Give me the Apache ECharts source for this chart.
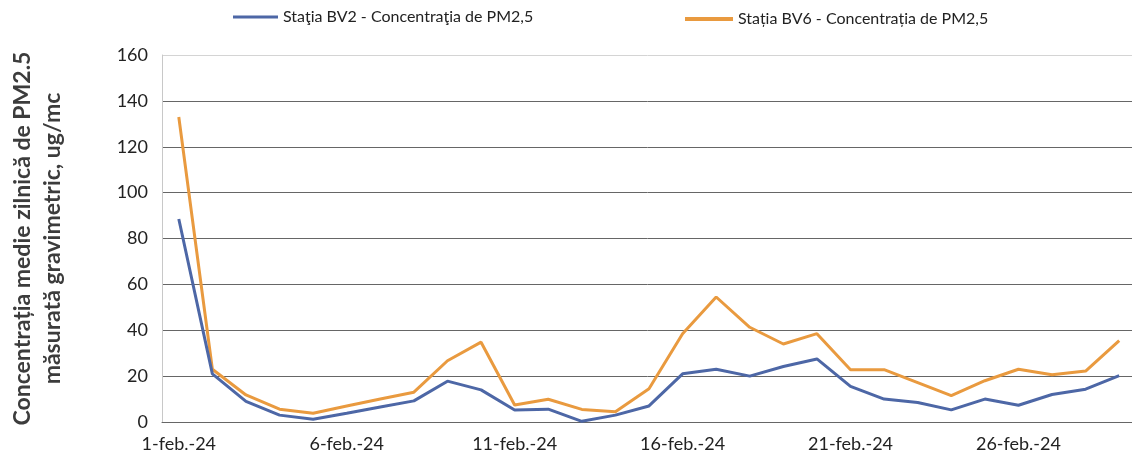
<!DOCTYPE html>
<html>
<head>
<meta charset="utf-8">
<script src="https://cdn.jsdelivr.net/npm/echarts@6/dist/echarts.min.js"></script>
<style>
  html, body { margin: 0; padding: 0; background: #fff; }
  #chart { width: 1132px; height: 464px; }
</style>
</head>
<body>
<div id="chart"></div>
<script>
// categorii (zilele lunii februarie 2024)
var days = [
  '1-feb.-24', '2-feb.-24', '3-feb.-24', '4-feb.-24', '5-feb.-24', '6-feb.-24',
  '7-feb.-24', '8-feb.-24', '9-feb.-24', '10-feb.-24', '11-feb.-24', '12-feb.-24',
  '13-feb.-24', '14-feb.-24', '15-feb.-24', '16-feb.-24', '17-feb.-24', '18-feb.-24',
  '19-feb.-24', '20-feb.-24', '21-feb.-24', '22-feb.-24', '23-feb.-24', '24-feb.-24',
  '25-feb.-24', '26-feb.-24', '27-feb.-24', '28-feb.-24', '29-feb.-24'
]
// concentratii PM2,5 (ug/mc)
var bv2 = [88.5, 21, 9, 3, 1.2, 3.8, 6.5, 9.2, 17.8, 14, 5.2, 5.6, 0.3, 3, 7,
  21, 23, 20, 24.2, 27.5, 15.5, 10, 8.5, 5.3, 10, 7.3, 12, 14.3, 20.2]
var bv6 = [133, 23, 11.8, 5.6, 3.8, 7, 10, 13, 26.7, 34.8, 7.4, 9.9, 5.5, 4.5, 14.5,
  38.5, 54.5, 41.3, 34, 38.5, 22.8, 22.8, 17.2, 11.5, 18, 23, 20.6, 22.2, 35.5]
var yTicks = [0, 20, 40, 60, 80, 100, 120, 140, 160]

var nameBV2 = 'Staţia BV2 - Concentraţia de PM2,5'
var nameBV6 = 'Stația BV6 - Concentrația de PM2,5'
var blue = '#4d67a6'
var orange = '#e99a3f'
var font = 'Lato, "Open Sans", sans-serif'

var chart = echarts.init(document.getElementById('chart'))
var option = {
  backgroundColor: '#fff',
  textStyle: { fontFamily: font },
  legend: [
    {
      left: 228,
      top: 4,
      data: [nameBV2],
      icon: 'rect',
      itemWidth: 45,
      itemHeight: 3,
      textStyle: { fontSize: 16, color: '#222', fontFamily: font }
    },
    {
      left: 680,
      top: 6,
      data: [nameBV6],
      icon: 'rect',
      itemWidth: 48,
      itemHeight: 4,
      textStyle: { fontSize: 16, color: '#222', fontFamily: font }
    }
  ],
  grid: {
    left: 162,
    top: 55,
    width: 974,
    bottom: 42,
    outerBoundsMode: 'none',
    containLabel: false
  },
  xAxis: {
    type: 'category',
    data: days,
    boundaryGap: true,
    axisLine: { lineStyle: { color: '#666', width: 1 } },
    axisTick: { interval: 4, length: 6, lineStyle: { color: '#666' } },
    axisLabel: {
      interval: 4,
      margin: 13,
      fontSize: 18,
      color: '#222',
      fontFamily: font
    }
  },
  yAxis: {
    type: 'value',
    min: yTicks[0],
    max: yTicks[yTicks.length - 1],
    interval: 20,
    name: 'Concentrația medie zilnică de PM2.5\nmăsurată gravimetric, ug/mc',
    nameLocation: 'middle',
    nameRotate: 90,
    nameGap: 94,
    nameTextStyle: {
      fontSize: 23,
      fontWeight: 'bold',
      color: '#3c3c3c',
      lineHeight: 30,
      fontFamily: font
    },
    axisLine: { show: true, lineStyle: { color: '#c8c8c8' } },
    axisTick: { show: false },
    axisLabel: {
      margin: 14,
      fontSize: 18,
      color: '#222',
      fontFamily: font,
      formatter: function (v) { return yTicks.indexOf(v) >= 0 ? String(v) : '' }
    },
    splitLine: {
      lineStyle: {
        color: ['#666', '#666', '#666', '#666', '#666', '#666', '#666', '#666', '#d4d4d4'],
        width: 1
      }
    }
  },
  series: [
    {
      name: nameBV6,
      type: 'line',
      data: bv6,
      showSymbol: false,
      symbol: 'none',
      itemStyle: { color: orange },
      lineStyle: { width: 3, color: orange },
      z: 2
    },
    {
      name: nameBV2,
      type: 'line',
      data: bv2,
      showSymbol: false,
      symbol: 'none',
      itemStyle: { color: blue },
      lineStyle: { width: 3, color: blue },
      z: 3
    }
  ]
}
chart.setOption(option)
</script>
</body>
</html>
